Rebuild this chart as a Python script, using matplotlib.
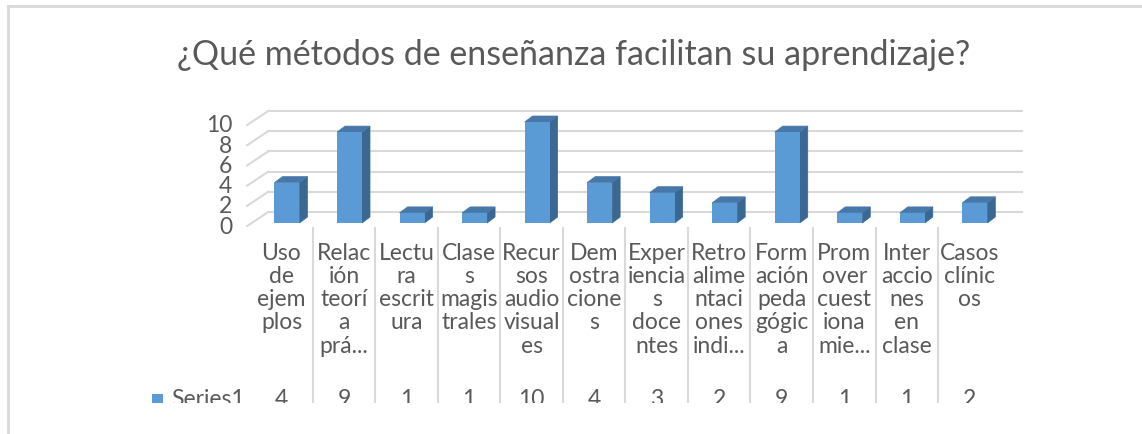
import matplotlib
matplotlib.use("Agg")
import matplotlib.pyplot as plt
from matplotlib.patches import Polygon, Rectangle
from matplotlib.lines import Line2D
import matplotlib.transforms as mtransforms

# data
categories = ["Uso de ejemplos", "Relación teoría práctica", "Lectura escritura",
              "Clases magistrales", "Recursos audiovisuales", "Demostraciones",
              "Experiencias docentes", "Retroalimentaciones individuales",
              "Formación pedagógica", "Promover cuestionamiento",
              "Interacciones en clase", "Casos clínicos"]
values = [4, 9, 1, 1, 10, 4, 3, 2, 9, 1, 1, 2]
# labels as wrapped (and truncated) in the data table
table_labels = [
    ["Uso", "de", "ejem", "plos"],
    ["Relac", "ión", "teorí", "a", "prá..."],
    ["Lectu", "ra", "escrit", "ura"],
    ["Clase", "s", "magis", "trales"],
    ["Recur", "sos", "audio", "visual", "es"],
    ["Dem", "ostra", "cione", "s"],
    ["Exper", "iencia", "s", "doce", "ntes"],
    ["Retro", "alime", "ntaci", "ones", "indi..."],
    ["Form", "ación", "peda", "gógic", "a"],
    ["Prom", "over", "cuest", "iona", "mie..."],
    ["Inter", "accio", "nes", "en", "clase"],
    ["Casos", "clínic", "os"],
]
yticks = [0, 2, 4, 6, 8, 10]
series_name = "Series1"
title = "¿Qué métodos de enseñanza facilitan su aprendizaje?"

W, H = 1142, 434
plt.rcParams['font.family'] = ['Lato', 'DejaVu Sans']
grey = '#595959'
grid = '#D9D9D9'
front_c = '#5B9BD5'
top_c = '#4778A9'
side_c = '#3B6892'
fs = 16.5

fig = plt.figure(figsize=(W / 100, H / 100), dpi=100)
fig.patch.set_facecolor('white')

# plot area in pixels
x_left, x_right = 250.2, 1000.6
y_zero, y_ten = 223, 122
ax = fig.add_axes([x_left / W, 1 - y_zero / H, (x_right - x_left) / W, (y_zero - y_ten) / H])
ax.set_xlim(-0.5, len(values) - 0.5)
ax.set_ylim(0, 10)
ax.axis('off')

pxx = (x_right - x_left) / len(values)   # px per category
pxy = (y_zero - y_ten) / 10.0            # px per unit

def dx(p):
    return p / pxx

def dy(p):
    return p / pxy

# back wall and left wall gridlines
wall_back_x = -0.5 + dx(18)
wall_front_x = -0.5 - dx(3)
wall_right_x = -0.5 + dx(772)
for v in yticks:
    yb = v + dy(11)
    ax.plot([wall_back_x, wall_right_x], [yb, yb], color=grid, lw=1.5, clip_on=False, zorder=1)
    ax.plot([wall_front_x, wall_back_x], [v - dy(3), yb], color=grid, lw=1.5, clip_on=False, zorder=1)
    ax.text(wall_front_x - dx(15), v - dy(4), str(v), ha='right', va='center',
            fontsize=fs, color=grey, clip_on=False)

# 3D bars
hw = dx(12.5)
ddx, ddy = dx(8), dy(6)
for i, v in enumerate(values):
    c = i + dx(5.5)
    x0, x1 = c - hw, c + hw
    side = Polygon([[x1, 0], [x1 + ddx, ddy], [x1 + ddx, v + ddy], [x1, v]],
                   closed=True, facecolor=side_c, edgecolor=side_c, lw=0.5, zorder=3, clip_on=False)
    top = Polygon([[x0, v], [x1, v], [x1 + ddx, v + ddy], [x0 + ddx, v + ddy]],
                  closed=True, facecolor=top_c, edgecolor=top_c, lw=0.5, zorder=3, clip_on=False)
    ax.add_patch(side)
    ax.add_patch(top)
    ax.bar(c, v, width=2 * hw, bottom=0, color=front_c, zorder=4, clip_on=False)

# data table
trans = mtransforms.blended_transform_factory(ax.transData, fig.transFigure)
for k in range(len(values) - 1):
    fig.add_artist(Line2D([k + 0.5, k + 0.5], [1 - 228 / H, 1 - 410 / H], transform=trans,
                          color=grid, lw=1.5))
row0, row_step = 253, 23.3
for i, lines in enumerate(table_labels):
    for j, s in enumerate(lines):
        fig.text(i, 1 - (row0 + j * row_step) / H, s, transform=trans, ha='center', va='center',
                 fontsize=fs, color=grey)
    fig.text(i, 1 - 400 / H, str(values[i]), transform=trans, ha='center', va='center',
             fontsize=fs, color=grey)
fig.add_artist(Rectangle((152 / W, 1 - 404 / H), 11 / W, 10 / H, transform=fig.transFigure,
                         facecolor=front_c, edgecolor='none'))
fig.text(171 / W, 1 - 400 / H, series_name, ha='left', va='center', fontsize=fs, color=grey)

# cut off bottom of the chart
fig.add_artist(Rectangle((0, 0), 1, 1 - 403 / H, transform=fig.transFigure,
                         facecolor='white', edgecolor='none', zorder=20))

fig.text(574 / W, 1 - 55 / H, title, ha='center', va='center', fontsize=24.5, color=grey)

# chart border (left and top visible)
fig.add_artist(Line2D([7.5 / W, 7.5 / W], [0, 1 - 5.5 / H], transform=fig.transFigure,
                      color=grid, lw=2, zorder=30))
fig.add_artist(Line2D([7.5 / W, 1], [1 - 5.5 / H, 1 - 5.5 / H], transform=fig.transFigure,
                      color=grid, lw=2, zorder=30))

fig.savefig('out.png', dpi=100, facecolor='white')
